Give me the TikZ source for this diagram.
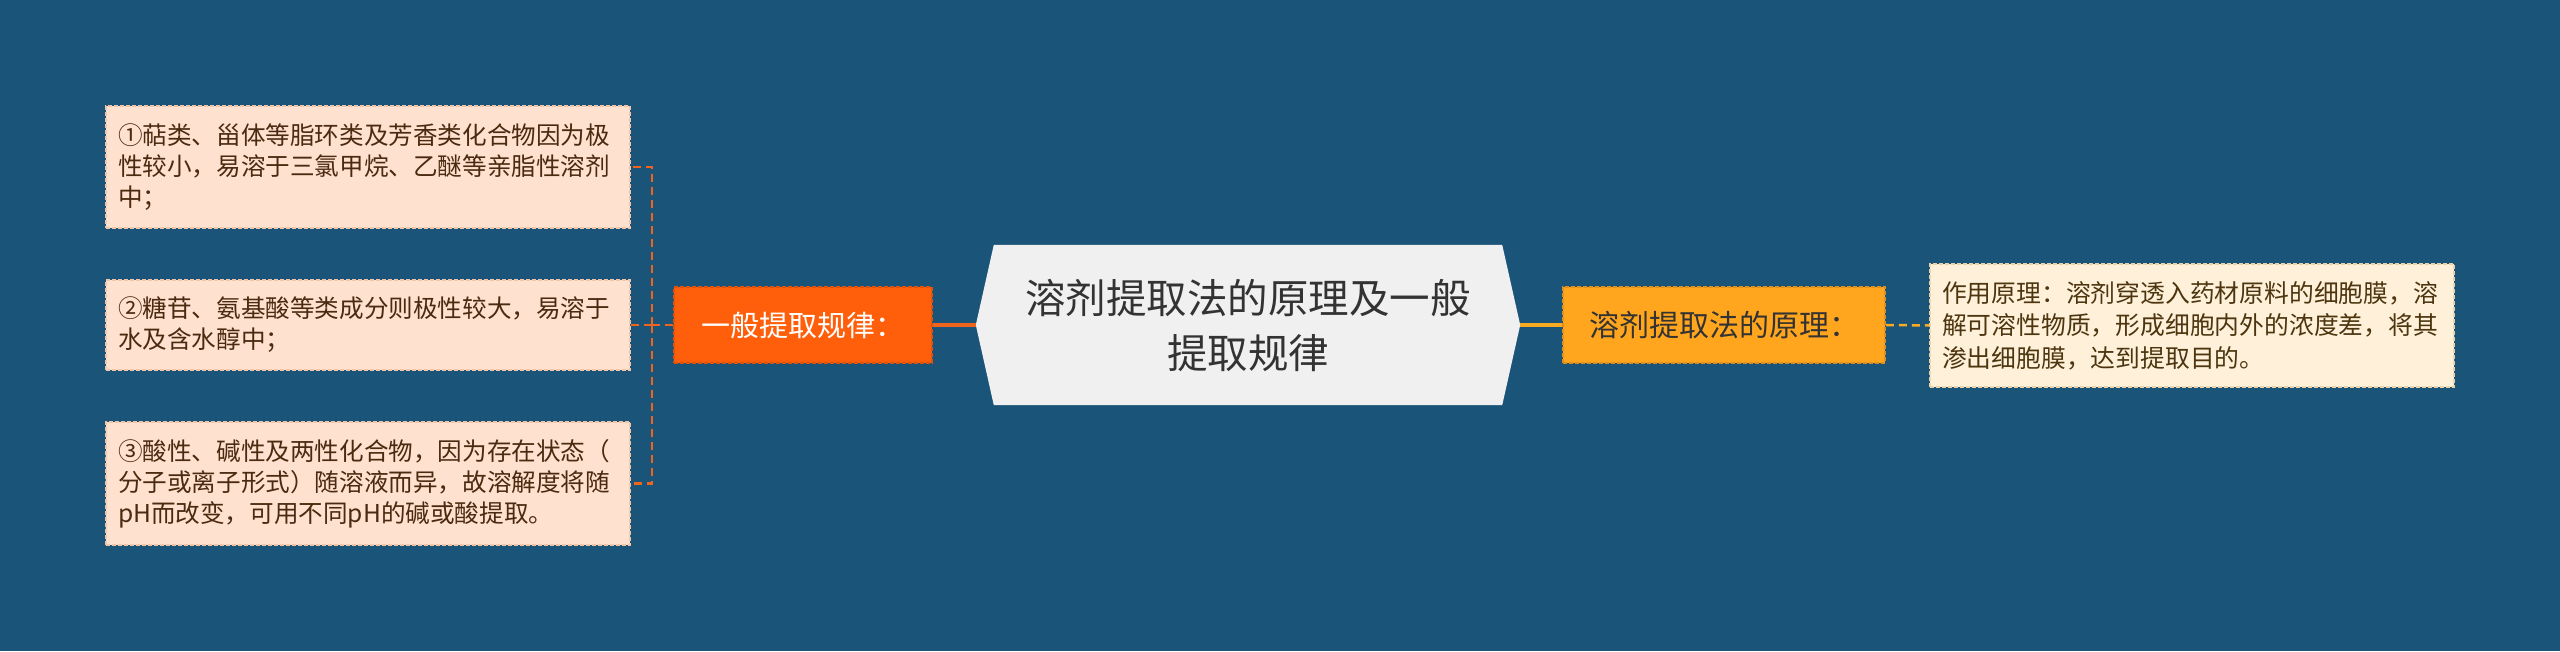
\documentclass[tikz,border=0pt]{standalone}
\usepackage{fontspec}
\setmainfont{Noto Sans CJK SC}
\usetikzlibrary{backgrounds}
\definecolor{bgblue}{HTML}{1B5479}
\definecolor{orangeL}{HTML}{FF5F0A}
\definecolor{orangeLd}{HTML}{E0520A}
\definecolor{yellowR}{HTML}{FFA61E}
\definecolor{yellowRd}{HTML}{E0901A}
\definecolor{peach}{HTML}{FFE1CF}
\definecolor{peachd}{HTML}{F2C4A8}
\definecolor{cream}{HTML}{FFF1D9}
\definecolor{creamd}{HTML}{EBD3A8}
\definecolor{centerfill}{HTML}{F0F0F0}
\definecolor{lineL}{HTML}{F0641E}
\definecolor{lineR}{HTML}{F7AA22}
\definecolor{txtbrown}{HTML}{4A2A10}
\definecolor{txtbrownR}{HTML}{4D3510}
\tikzset{
  leafL/.style={fill=peach, draw=peachd, line width=1.5pt, dash pattern=on 4pt off 2pt,
    minimum width=524pt, text width=500pt, align=left, inner sep=0pt,
    font=\fontsize{24.6}{31}\selectfont, text=txtbrown},
  leafR/.style={fill=cream, draw=creamd, line width=1.5pt, dash pattern=on 4pt off 2pt,
    minimum width=524pt, minimum height=123pt, text width=500pt, align=left, inner sep=0pt,
    font=\fontsize{24.8}{32.5}\selectfont, text=txtbrownR},
  branchL/.style={fill=orangeL, draw=orangeLd, line width=1.5pt, dash pattern=on 4pt off 2pt,
    minimum width=258pt, minimum height=76pt, inner sep=0pt,
    font=\fontsize{29}{34}\selectfont, text=white},
  branchR/.style={fill=yellowR, draw=yellowRd, line width=1.5pt, dash pattern=on 4pt off 2pt,
    minimum width=322pt, minimum height=76pt, inner sep=0pt,
    font=\fontsize{30}{34}\selectfont, text=black!80},
  hub/.style={minimum width=544pt, minimum height=160pt, inner sep=0pt, align=center,
    font=\fontsize{40.5}{55}\selectfont, text=black!80},
  solidL/.style={draw=lineL, line width=4pt},
  solidR/.style={draw=lineR, line width=4pt},
  dashL/.style={draw=lineL, line width=2.5pt, dash pattern=on 8pt off 5pt},
  dashR/.style={draw=lineR, line width=2.5pt, dash pattern=on 8pt off 5pt},
}
\begin{document}
\begin{tikzpicture}[x=1pt,y=-1pt]
\begin{scope}[on background layer]
\fill[bgblue] (0,0) rectangle (2560,651);
\end{scope}
\useasboundingbox (0,0) rectangle (2560,651);

\node[hub] (c) at (1248,325) {溶剂提取法的原理及一般\\提取规律};
\begin{scope}[on background layer]
\fill[centerfill] ([xshift=18pt]c.north west) -- ([xshift=-18pt]c.north east) -- (c.east)
  -- ([xshift=-18pt]c.south east) -- ([xshift=18pt]c.south west) -- (c.west) -- cycle;
\end{scope}

\node[branchL] (L) at (803,325) {一般提取规律：};
\node[branchR] (R) at (1724,325) {溶剂提取法的原理：};

\node[leafL, minimum height=122pt] (b1) at (368,167) {①萜类、甾体等脂环类及芳香类化合物因为极\\性较小，易溶于三氯甲烷、乙醚等亲脂性溶剂\\中；};
\node[leafL, minimum height=90pt] (b2) at (368,325) {②糖苷、氨基酸等类成分则极性较大，易溶于\\水及含水醇中；};
\node[leafL, minimum height=123pt] (b3) at (368,483.5) {③酸性、碱性及两性化合物，因为存在状态（\\分子或离子形式）随溶液而异，故溶解度将随\\pH而改变，可用不同pH的碱或酸提取。};

\node[leafR] (rb) at (2192,325.5) {作用原理：溶剂穿透入药材原料的细胞膜，溶\\解可溶性物质，形成细胞内外的浓度差，将其\\渗出细胞膜，达到提取目的。};

\coordinate (jL) at (652,325);

\begin{scope}[on background layer]
\draw[solidL] (c.west) -- (L.east);
\draw[solidR] (c.east) -- (R.west);
\end{scope}
\draw[dashL] (L.west) -- (jL);
\draw[dashL] (jL) |- (b1.east);
\draw[dashL] (jL) -- (b2.east);
\draw[dashL] (jL) |- (b3.east);
\draw[dashR] (R.east) -- (rb.west);
\end{tikzpicture}
\end{document}
